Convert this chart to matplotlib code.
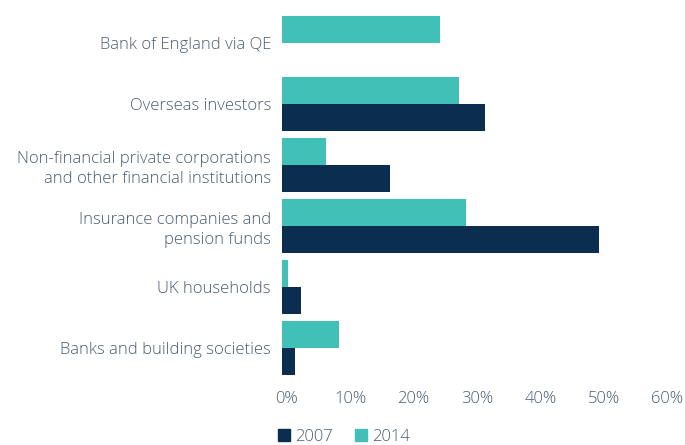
import matplotlib
matplotlib.use("Agg")
import matplotlib.pyplot as plt
import numpy as np
from matplotlib.patches import Patch
import matplotlib.transforms as mtransforms

categories = ["Bank of England via QE", "Overseas investors",
              "Non-financial private corporations\nand other financial institutions",
              "Insurance companies and\npension funds", "UK households",
              "Banks and building societies"]
values_2007 = [0, 32, 17, 50, 3, 2]
values_2014 = [25, 28, 7, 29, 1, 9]
xticks = [0, 10, 20, 30, 40, 50, 60]
xticklabels = ["0%", "10%", "20%", "30%", "40%", "50%", "60%"]

navy = "#0b2d4f"
teal = "#41c0b8"
txt = "#4b5c72"

plt.rcParams['font.family'] = ['Open Sans', 'DejaVu Sans']
plt.rcParams['font.weight'] = 'light'
fs = 12

fig = plt.figure(figsize=(6.85, 4.45), dpi=100)
ax = fig.add_axes([282/685, (445-378.5)/445, 380/685, 366/445])

y = np.arange(len(categories))
h = 0.45
ax.barh(y - h/2, values_2014, height=h, color=teal, label="2014")
ax.barh(y + h/2, values_2007, height=h, color=navy, label="2007")

ax.set_ylim(len(categories) - 0.5, -0.5)
ax.set_xlim(0, 60)
ax.set_yticks(y)
ax.set_yticklabels(categories, fontsize=fs, color=txt, linespacing=1.3)
ax.set_xticks(xticks)
ax.set_xticklabels(xticklabels, fontsize=fs, color=txt)
ax.tick_params(axis='both', length=0)
ax.tick_params(axis='y', pad=8)
ax.tick_params(axis='x', pad=9)
for s in ax.spines.values():
    s.set_visible(False)

handles = [Patch(color=navy), Patch(color=teal)]
fig.legend(handles, ["2007", "2014"], loc='center left',
           bbox_to_anchor=(271/685, 1 - 437/445), ncol=2, frameon=False,
           fontsize=fs, labelcolor=txt, handlelength=0.75, handleheight=0.75,
           handletextpad=0.3, columnspacing=1.3, borderaxespad=0)

fig.canvas.draw()
offset = mtransforms.ScaledTranslation(5/100, 0, fig.dpi_scale_trans)
for t in ax.xaxis.get_major_ticks():
    t.label1.set_transform(t.label1.get_transform() + offset)

fig.savefig("out.png", dpi=100)
